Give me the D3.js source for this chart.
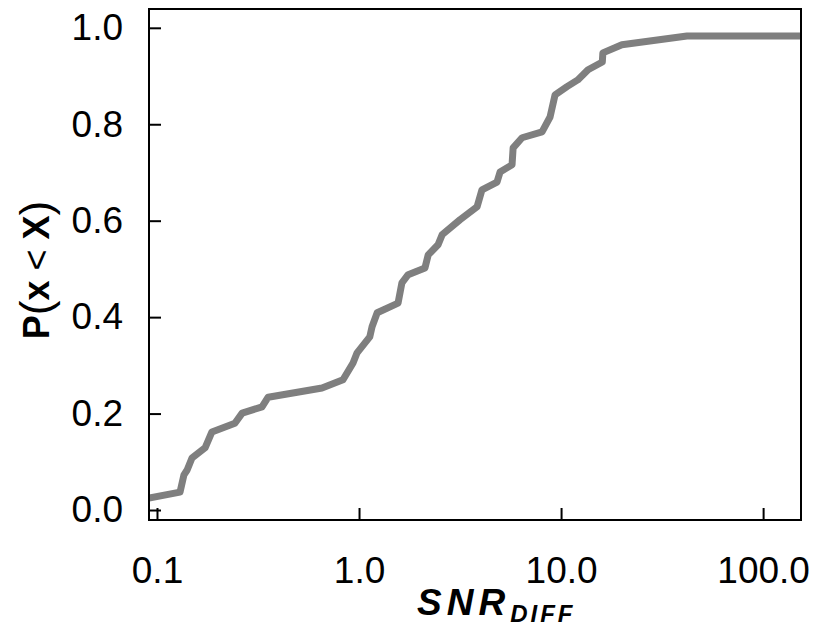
<!DOCTYPE html>
<meta charset="utf-8">
<head>
    <title>SNR diff CDF</title>
</head>
<style>
    body { margin: 0; background: #fff; }
    text { font-family: "Liberation Sans", Arial, sans-serif; }
</style>
<body>
    <svg width="814" height="628"></svg>
    <script src="https://cdnjs.cloudflare.com/ajax/libs/d3/7.8.5/d3.min.js"></script>
    <script>
        // values
        var snr = [0.0913, 0.130, 0.136, 0.141, 0.149, 0.173, 0.187, 0.243, 0.264, 0.331, 0.355,
            0.656, 0.833, 0.934, 0.978, 1.13, 1.16, 1.23, 1.56, 1.63, 1.75, 2.12, 2.20, 2.46, 2.58,
            3.16, 3.84, 4.06, 4.82, 4.99, 5.72, 5.79, 6.41, 8.05, 8.82, 9.34, 10.7, 12.1, 13.6,
            16.0, 16.1, 20.0, 42.0, 154]
        var prob = [0.025, 0.037, 0.073, 0.083, 0.108, 0.129, 0.162, 0.180, 0.201, 0.214, 0.234,
            0.253, 0.270, 0.305, 0.326, 0.359, 0.380, 0.409, 0.429, 0.471, 0.488, 0.502, 0.529, 0.550, 0.571,
            0.602, 0.629, 0.664, 0.680, 0.701, 0.716, 0.751, 0.772, 0.784, 0.815, 0.861, 0.878, 0.892, 0.913,
            0.929, 0.948, 0.965, 0.983, 0.983]
        var xTicks = [0.1, 1, 10, 100]
        var xTickLabels = ['0.1', '1.0', '10.0', '100.0']
        var yTicks = [0, 0.2, 0.4, 0.6, 0.8, 1.0]
        var yTickLabels = ['0.0', '0.2', '0.4', '0.6', '0.8', '1.0']

        var margin = { top: 9, right: 13, bottom: 108, left: 149 }
        var width = 814 - margin.left - margin.right,
            height = 628 - margin.top - margin.bottom

        var svg = d3.select('svg')
        var g = svg.append('g')
            .attr('transform', 'translate(' + margin.left + ',' + margin.top + ')')

        var x = d3.scaleLog().domain([0.0913, 154]).range([0, width])
        var y = d3.scaleLinear().domain([-0.0207, 1.039]).range([height, 0])

        g.append('clipPath').attr('id', 'clip')
            .append('rect').attr('width', width).attr('height', height)

        var pts = snr.map(function (d, i) { return [d, prob[i]] })
        var line = d3.line()
            .x(function (d) { return x(d[0]) })
            .y(function (d) { return y(d[1]) })

        g.append('path')
            .datum(pts)
            .attr('clip-path', 'url(#clip)')
            .attr('fill', 'none')
            .attr('stroke', '#7f7f7f')
            .attr('stroke-width', 7)
            .attr('stroke-linejoin', 'round')
            .attr('d', line)

        // axes, ticks point inward
        var xAxis = g.append('g')
            .attr('transform', 'translate(0,' + height + ')')
            .call(d3.axisBottom(x).tickValues(xTicks)
                .tickFormat(function (d, i) { return xTickLabels[i] })
                .tickSizeInner(-12).tickSizeOuter(0).tickPadding(37))
        var yAxis = g.append('g')
            .call(d3.axisLeft(y).tickValues(yTicks)
                .tickFormat(function (d, i) { return yTickLabels[i] })
                .tickSizeInner(-12).tickSizeOuter(0).tickPadding(26))

        ;[xAxis, yAxis].forEach(function (a) {
            a.select('.domain').remove()
            a.selectAll('line').attr('stroke', '#000').attr('stroke-width', 2)
            a.selectAll('text')
                .attr('fill', '#000')
                .style('font-size', '37px')
                .style('font-family', '"Liberation Sans", Arial, sans-serif')
        })

        g.append('rect')
            .attr('width', width).attr('height', height)
            .attr('fill', 'none').attr('stroke', '#000').attr('stroke-width', 2)

        // x label
        var xl = svg.append('text')
            .attr('x', 417).attr('y', 615)
            .style('font-weight', 'bold').style('font-style', 'italic')
            .style('font-size', '37px').style('letter-spacing', '5px')
        xl.append('tspan').text('SNR')
        xl.append('tspan').attr('dy', 7).style('font-size', '24px')
            .style('letter-spacing', '3px').text('DIFF')

        // y label
        var yl = svg.append('text')
            .attr('transform', 'translate(49,270) rotate(-90)')
            .attr('text-anchor', 'middle')
            .style('font-size', '36px')
        yl.append('tspan').style('font-weight', 'bold').text('P')
        yl.append('tspan').style('font-size', '44px').attr('dy', 2).text('(')
        yl.append('tspan').style('font-weight', 'bold').attr('dy', -2).text('x')
        yl.append('tspan').text(' < ')
        yl.append('tspan').style('font-weight', 'bold').text('X')
        yl.append('tspan').style('font-size', '44px').attr('dy', 2).text(')')
    </script>
</body>
</html>
